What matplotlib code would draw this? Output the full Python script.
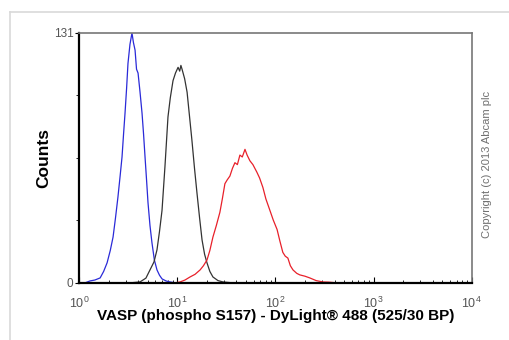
import matplotlib.pyplot as plt
from matplotlib.lines import Line2D
from matplotlib.ticker import FixedLocator, LogLocator, NullFormatter

# isotype / unstained control (blue)
blue_x = [1.15, 1.29, 1.45, 1.64, 1.78, 1.93, 2.08, 2.22, 2.35, 2.49, 2.62, 2.74,
          2.84, 2.94, 3.05, 3.15, 3.30, 3.46, 3.58, 3.72, 3.85, 3.99, 4.18, 4.38,
          4.54, 4.70, 4.87, 5.04, 5.28, 5.53, 5.85, 6.22, 6.6, 7.0, 7.7, 8.44, 9.7]
blue_y = [0, 1, 1.5, 2.6, 6, 10.5, 17, 24, 34, 45, 56, 66,
          78, 89, 102, 115, 125, 131, 126, 122, 112, 110, 100, 89,
          78, 66, 54, 42, 30, 21, 12, 6.8, 4, 2.1, 1, 0.5, 0]

# secondary only (black)
black_x = [3.30, 4.18, 4.8, 5.28, 5.8, 6.22, 6.6, 7.0, 7.5, 8.05, 8.5, 9.06,
           9.6, 10.2, 10.6, 10.9, 11.2, 11.9, 12.6, 13.3, 14.1, 15.0, 15.9, 16.9,
           17.9, 19.0, 20.1, 21.5, 23.1, 26.0, 29.2, 36.9]
black_y = [0, 0.5, 2.5, 6.8, 11, 17.3, 27, 38, 61, 87, 97, 106,
           110, 113, 111, 114, 112, 107, 100, 88, 75, 60, 47, 34,
           22.5, 15, 10.5, 6, 3.1, 1.2, 0.5, 0]

# VASP (phospho S157) stained (red)
red_x = [9.49, 10.7, 12.0, 13.5, 15.2, 17.1, 18.5, 20.1, 21.5, 23.1, 25.0, 27.2,
         28.8, 30.6, 32.3, 34.4, 36.5, 38.7, 41.0, 43.5, 46.0, 49.0, 51.5, 55.0,
         59.0, 64.8, 69.0, 74.6, 80.0, 87.9, 95.0, 104, 111, 119, 126, 134,
         142, 151, 165, 177, 200, 224, 260, 304, 350, 423]
red_y = [0, 0.5, 1.5, 3.1, 4.5, 6.8, 9, 12, 17, 24, 30, 37,
         44, 52, 54, 56, 60, 63, 62, 67, 66, 70, 67, 64,
         62, 58, 55, 50, 44, 38, 33, 28, 22, 16, 14, 13,
         9, 6.8, 5, 4.2, 3.5, 2.6, 1.2, 0.5, 0.4, 0]

fig = plt.figure(figsize=(5.1, 3.4), dpi=100)
ax = fig.add_axes([0.155, 0.168, 0.770, 0.735])

ax.plot(blue_x, blue_y, color='#2a2ad8', lw=0.9)
ax.plot(black_x, black_y, color='#333333', lw=0.9)
ax.plot(red_x, red_y, color='#e8202a', lw=0.9)

ax.set_xscale('log')
ax.set_xlim(1, 1e4)
ax.set_ylim(0, 131)

ax.xaxis.set_major_locator(LogLocator(base=10, numticks=10))
ax.xaxis.set_minor_locator(LogLocator(base=10, subs=range(2, 10), numticks=20))
ax.xaxis.set_minor_formatter(NullFormatter())
ax.tick_params(axis='x', which='major', direction='in', length=4, width=0.8,
               labelsize=9, labelcolor='#555555', pad=9)
ax.tick_params(axis='x', which='minor', direction='in', length=2.5, width=0.6)

ax.set_yticks([0, 131])
ax.yaxis.set_minor_locator(FixedLocator([32.75, 65.5, 98.25]))
ax.tick_params(axis='y', which='major', direction='out', length=3, width=0.8,
               labelsize=8.5, labelcolor='#555555', pad=1)
ax.tick_params(axis='y', which='minor', direction='out', length=2, width=0.6)

for s in ['left', 'bottom']:
    ax.spines[s].set_linewidth(1.6)
    ax.spines[s].set_color('black')
for s in ['top', 'right']:
    ax.spines[s].set_linewidth(1.2)
    ax.spines[s].set_color('#777777')

ax.set_xlabel('VASP (phospho S157) - DyLight\u00ae 488 (525/30 BP)',
              fontsize=11, fontweight='bold', family='Liberation Sans', labelpad=-1)
ax.set_ylabel('Counts', fontsize=12.5, fontweight='bold', family='Liberation Sans', labelpad=2)
for lab in ax.get_xticklabels() + ax.get_yticklabels():
    lab.set_family('Liberation Sans')

fig.text(0.955, 0.515, 'Copyright (c) 2013 Abcam plc', rotation=90, fontsize=8,
         color='#707070', ha='center', va='center', family='Liberation Sans')

# light frame around the figure
fig.add_artist(Line2D([10 / 510, 1], [1 - 12 / 340, 1 - 12 / 340], color='#d9d9d9', lw=1.2))
fig.add_artist(Line2D([10 / 510, 10 / 510], [0, 1 - 12 / 340], color='#d9d9d9', lw=1.2))

fig.savefig('out.png', dpi=100)
